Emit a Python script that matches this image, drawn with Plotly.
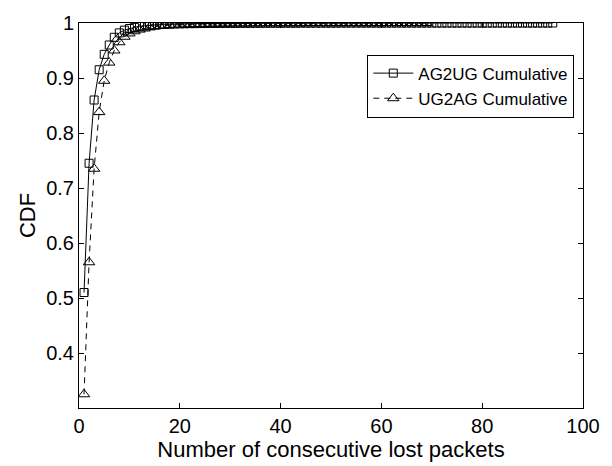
import plotly.graph_objects as go

ag2ug = [0.51, 0.745, 0.86, 0.915, 0.943, 0.960, 0.974, 0.982, 0.987, 0.990,
         0.992, 0.994, 0.995, 0.996, 0.9966, 0.9972, 0.9976, 0.998, 0.9983, 0.9985,
         0.9987, 0.9988, 0.9989, 0.9990, 0.9991, 0.9992, 0.9992, 0.9993, 0.9993, 0.9994,
         0.9994, 0.9995, 0.9995, 0.9995, 0.9996, 0.9996, 0.9996, 0.9996, 0.9997, 0.9997,
         0.9997, 0.9997, 0.9997, 0.9998, 0.9998, 0.9998, 0.9998, 0.9998, 0.9998, 0.9998,
         0.9998, 0.9999, 0.9999, 0.9999, 0.9999, 0.9999, 0.9999, 0.9999, 0.9999, 0.9999,
         0.9999, 0.9999, 0.9999, 0.9999, 0.9999, 0.9999, 0.9999, 0.9999, 0.9999, 0.9999,
         0.9999, 0.9999, 0.9999, 0.9999, 0.9999, 0.9999, 0.9999, 0.9999, 0.9999, 0.9999,
         0.9999, 0.9999, 0.9999, 0.9999, 0.9999, 0.9999, 0.9999, 0.9999, 0.9999, 0.9999,
         0.9999, 0.9999, 0.9999, 1.0]

ug2ag = [0.325, 0.565, 0.735, 0.838, 0.895, 0.928, 0.950, 0.965, 0.975, 0.981,
         0.985, 0.988, 0.990, 0.992, 0.9935, 0.9945, 0.9955, 0.996, 0.9966, 0.997,
         0.9974, 0.9977, 0.998, 0.9982, 0.9984, 0.9986, 0.9987, 0.9988, 0.9989, 0.999,
         0.9991, 0.9992, 0.9992, 0.9993, 0.9993, 0.9994, 0.9994, 0.9995, 0.9995, 0.9995,
         0.9996, 0.9996, 0.9996, 0.9996, 0.9996, 0.9997, 0.9997, 0.9997, 0.9997, 0.9997,
         0.9998, 0.9998, 0.9998, 0.9998, 0.9998, 0.9998, 0.9998, 0.9998, 0.9998, 0.9998,
         0.9999, 0.9999, 0.9999, 0.9999, 0.9999, 0.9999, 0.9999, 0.9999, 1.0]

x_ag = list(range(1, len(ag2ug) + 1))
x_ug = list(range(1, len(ug2ag) + 1))

x_ticks = [0, 20, 40, 60, 80, 100]
y_ticks = [0.4, 0.5, 0.6, 0.7, 0.8, 0.9, 1]
y_tick_text = ["0.4", "0.5", "0.6", "0.7", "0.8", "0.9", "1"]

FONT = "Liberation Sans, Arial, Helvetica, sans-serif"

fig = go.Figure()
fig.add_trace(go.Scatter(
    x=x_ag, y=ag2ug, name="AG2UG Cumulative", mode="lines+markers",
    line=dict(color="black", width=1),
    marker=dict(symbol="square-open", size=8, color="black", line=dict(width=1)),
))
fig.add_trace(go.Scatter(
    x=x_ug, y=ug2ag, name="UG2AG Cumulative", mode="lines+markers",
    line=dict(color="black", width=1, dash="6px,5px"),
    marker=dict(symbol="triangle-up-open", size=10, color="black", line=dict(width=1)),
))

axis_common = dict(
    showline=True, linecolor="black", linewidth=1, mirror="ticks",
    ticks="inside", ticklen=5, tickcolor="black", tickwidth=1,
    showgrid=False, zeroline=False, ticklabeloverflow="allow",
    tickfont=dict(family=FONT, size=20, color="black"),
)

fig.update_layout(
    width=612, height=466,
    margin=dict(l=79, r=15, t=16, b=58),
    paper_bgcolor="white", plot_bgcolor="white",
    font=dict(family=FONT, color="black"),
    xaxis=dict(range=[0, 100], tickvals=x_ticks,
               title=dict(text="Number of consecutive lost packets",
                          font=dict(family=FONT, size=22, color="black"), standoff=0),
               **axis_common),
    yaxis=dict(range=[0.3, 1], tickvals=y_ticks, ticktext=y_tick_text,
               title=dict(text="CDF", font=dict(family=FONT, size=22, color="black"), standoff=4),
               **axis_common),
    legend=dict(x=0.572, y=0.918, xanchor="left", yanchor="top",
                bordercolor="black", borderwidth=1, bgcolor="white",
                font=dict(family=FONT, size=17, color="black"), itemwidth=40,
                tracegroupgap=0),
    showlegend=True,
)

fig.write_html("out.html")
